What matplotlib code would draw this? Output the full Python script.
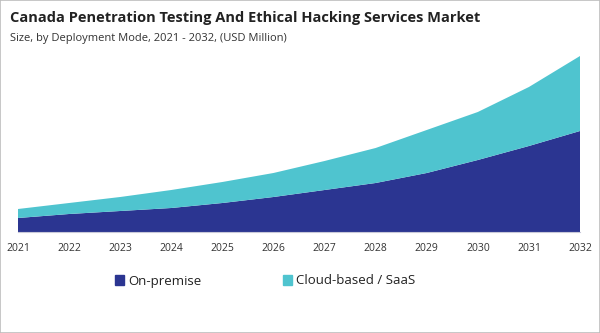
import matplotlib.pyplot as plt
from matplotlib.patches import Patch, Rectangle

# Data (relative units, no value axis shown)
years = [2021, 2022, 2023, 2024, 2025, 2026, 2027, 2028, 2029, 2030, 2031, 2032]
on_premise = [14, 18, 21, 24, 29, 35, 42, 49, 59, 72, 86, 101]
cloud_saas = [9, 11, 14, 18, 21, 24, 29, 35, 43, 48, 59, 75]

dark = '#2b3591'
cyan = '#4fc4cf'

plt.rcParams['font.family'] = ['Open Sans', 'DejaVu Sans']

fig = plt.figure(figsize=(6, 3.33), dpi=100)
ax = fig.add_axes([18 / 600, 1 - 232 / 333, 562 / 600, 182 / 333])

# Stacked area
ax.stackplot(years, on_premise, cloud_saas, colors=[dark, cyan], linewidth=0)

ax.set_xlim(years[0], years[-1])
ax.set_ylim(0, 182)
ax.set_xticks(years)
ax.set_xticklabels([str(y) for y in years], fontsize=7.5, color='#333333')
ax.tick_params(axis='x', length=0, pad=8)
ax.set_yticks([])
for side in ['top', 'right', 'left']:
    ax.spines[side].set_visible(False)
ax.spines['bottom'].set_color('#c8c8d8')
ax.spines['bottom'].set_linewidth(0.8)

# Titles
fig.text(10 / 600, 1 - 18 / 333, 'Canada Penetration Testing And Ethical Hacking Services Market',
         fontsize=10.5, fontweight='bold', color='#222222', va='center', ha='left')
fig.text(10 / 600, 1 - 39 / 333, 'Size, by Deployment Mode, 2021 - 2032, (USD Million)',
         fontsize=8, color='#333333', va='center', ha='left')

# Legend
handles = [Patch(color=dark, label='On-premise'), Patch(color=cyan, label='Cloud-based / SaaS')]
fig.legend(handles=handles, loc='center left', bbox_to_anchor=(103 / 600, 1 - 281 / 333),
           ncol=2, frameon=False, fontsize=9.5, handlelength=0.7, handleheight=0.7,
           handletextpad=0.3, columnspacing=6.2, labelcolor='#222222')

# Thin grey border round the picture
fig.patches.append(Rectangle((0, 0), 1, 1, transform=fig.transFigure, fill=False,
                             edgecolor='#bdbdbd', linewidth=1.2))

fig.savefig('out.png', dpi=100)
